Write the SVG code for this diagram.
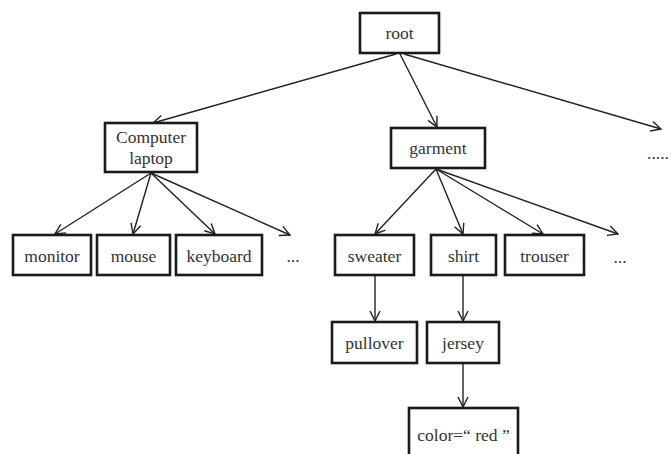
<svg xmlns="http://www.w3.org/2000/svg" width="671" height="454" viewBox="0 0 671 454">
<defs>
<marker id="arr" viewBox="0 0 12 12" refX="11" refY="6" markerWidth="12" markerHeight="12" markerUnits="userSpaceOnUse" orient="auto">
<path d="M1,1 L11,6 L1,11" fill="none" stroke="#222" stroke-width="1.4"/>
</marker>
<style>
.box{fill:#fff;stroke:#1a1a1a;stroke-width:2.6}
.t{font-family:"Liberation Serif","Times New Roman",serif;font-size:17.5px;fill:#333;text-anchor:middle}
.c line{stroke:#222;stroke-width:1.4;marker-end:url(#arr)}
</style>
</defs>
<rect width="671" height="454" fill="#fff"/>
<g class="c" id="connectors">
<line x1="396" y1="54" x2="153" y2="123"/>
<line x1="400" y1="54" x2="437" y2="127"/>
<line x1="404" y1="54" x2="661" y2="129"/>
<line x1="151" y1="173" x2="55" y2="234"/>
<line x1="151" y1="173" x2="133" y2="234"/>
<line x1="151" y1="173" x2="215" y2="234"/>
<line x1="151" y1="173" x2="290" y2="235"/>
<line x1="436" y1="169" x2="375" y2="234"/>
<line x1="436" y1="169" x2="463" y2="234"/>
<line x1="436" y1="169" x2="543" y2="234"/>
<line x1="436" y1="169" x2="618" y2="234"/>
<line x1="375" y1="275" x2="375" y2="321"/>
<line x1="463" y1="275" x2="463" y2="321"/>
<line x1="463" y1="363" x2="463" y2="407"/>
</g>
<g id="root"><rect class="box" x="360" y="13" width="79" height="40"/><text class="t" x="399.5" y="39">root</text></g>
<g id="computer-laptop"><rect class="box" x="105" y="123" width="92" height="49"/><text class="t" x="151" y="143">Computer</text><text class="t" x="151" y="164">laptop</text></g>
<g id="garment"><rect class="box" x="391" y="128" width="94" height="40"/><text class="t" x="438" y="154">garment</text></g>
<text class="t" x="658" y="159">.....</text>
<g id="monitor"><rect class="box" x="13" y="235" width="78" height="40"/><text class="t" x="52" y="262">monitor</text></g>
<g id="mouse"><rect class="box" x="97" y="235" width="73" height="40"/><text class="t" x="133.5" y="262">mouse</text></g>
<g id="keyboard"><rect class="box" x="176" y="235" width="86" height="40"/><text class="t" x="219" y="262">keyboard</text></g>
<text class="t" x="293" y="262">...</text>
<g id="sweater"><rect class="box" x="335" y="235" width="79" height="40"/><text class="t" x="374.5" y="262">sweater</text></g>
<g id="shirt"><rect class="box" x="431" y="235" width="65" height="40"/><text class="t" x="463.5" y="262">shirt</text></g>
<g id="trouser"><rect class="box" x="505" y="235" width="79" height="40"/><text class="t" x="544.5" y="262">trouser</text></g>
<text class="t" x="620" y="263">...</text>
<g id="pullover"><rect class="box" x="332" y="322" width="85" height="41"/><text class="t" x="374.5" y="349">pullover</text></g>
<g id="jersey"><rect class="box" x="427" y="322" width="72" height="41"/><text class="t" x="463" y="349">jersey</text></g>
<g id="color"><rect class="box" x="409" y="408" width="109" height="60"/><text class="t" x="463.5" y="441">color=“ red ”</text></g>
</svg>
